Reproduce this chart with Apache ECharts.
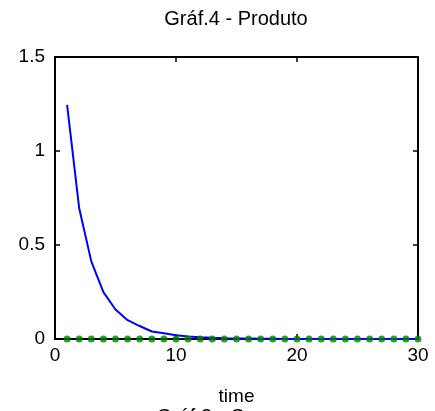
<!DOCTYPE html>
<html><head><meta charset="utf-8">
<script src="https://cdn.jsdelivr.net/npm/echarts@6/dist/echarts.min.js"></script>
<style>html,body{margin:0;padding:0;background:#fff}#c{width:435px;height:411px}</style>
</head><body><div id="c"></div>
<script>
const time = [1,2,3,4,5,6,7,8,9,10,11,12,13,14,15,16,17,18,19,20,21,22,23,24,25,26,27,28,29,30];
const produto = [1.245,0.695,0.413,0.249,0.157,0.10,0.069,0.04,0.03,0.02,0.013,0.009,0.006,0.004,0.003,0.002,0.001,0.001,0,0,0,0,0,0,0,0,0,0,0,0];
const consumo = [0,0,0,0,0,0,0,0,0,0,0,0,0,0,0,0,0,0,0,0,0,0,0,0,0,0,0,0,0,0];
const titleText = 'Gráf.4 - Produto';
const nextTitle = 'Gráf.3 - Consumo';
const xName = 'time';

const font = 'Liberation Sans, Arial, sans-serif';
const chart = echarts.init(document.getElementById('c'));
const axisLine = {show:true, onZero:false, lineStyle:{color:'#000', width:2}};
const tick = {show:true,inside:true,length:5,lineStyle:{color:'#000',width:1.5}};
chart.setOption({
  animation:false,
  graphic:[
    {type:'text',x:236,y:9,style:{text:titleText,font:'20px '+font,fill:'#000',textAlign:'center',textVerticalAlign:'top'}},
    {type:'text',x:236,y:407,style:{text:nextTitle,font:'20px '+font,fill:'#000',textAlign:'center',textVerticalAlign:'top'}}
  ],
  grid:{left:55,right:17,top:57,bottom:72,containLabel:false},
  xAxis:[
    {type:'value',min:0,max:30,interval:10,position:'bottom',
     name:xName,nameLocation:'middle',nameGap:48,nameTextStyle:{fontFamily:font,fontSize:19,color:'#000',verticalAlign:'top'},
     axisLine:axisLine,axisTick:tick,
     axisLabel:{fontFamily:font,fontSize:19,color:'#000',margin:7},splitLine:{show:false}},
    {type:'value',min:0,max:30,interval:10,position:'top',
     axisLine:axisLine,axisTick:tick,axisLabel:{show:false},splitLine:{show:false}}
  ],
  yAxis:[
    {type:'value',min:0,max:1.5,interval:0.5,position:'left',
     axisLine:axisLine,axisTick:tick,
     axisLabel:{fontFamily:font,fontSize:19,color:'#000',margin:10},splitLine:{show:false}},
    {type:'value',min:0,max:1.5,interval:0.5,position:'right',
     axisLine:axisLine,axisTick:tick,axisLabel:{show:false},splitLine:{show:false}}
  ],
  series:[
    {type:'line',data:time.map((t,i)=>[t,produto[i]]),showSymbol:false,symbol:'none',
     lineStyle:{color:'#0000ff',width:2},itemStyle:{color:'#0000ff'},z:2},
    {type:'scatter',data:time.map((t,i)=>[t,consumo[i]]),symbol:'circle',symbolSize:7,
     itemStyle:{color:'#008000'},z:3}
  ]
});
</script></body></html>
